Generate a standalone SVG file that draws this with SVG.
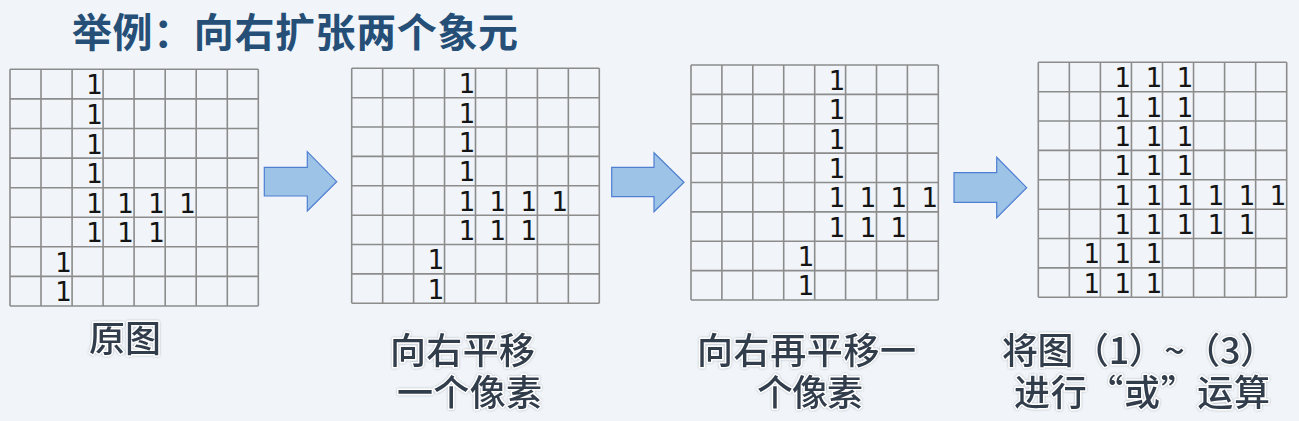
<svg xmlns="http://www.w3.org/2000/svg" width="1299" height="421" viewBox="0 0 1299 421">
<defs>
<style>
.grid{fill:none;stroke:#8c8c8c;stroke-width:1.6}
.d{font-family:"DejaVu Sans",sans-serif;font-size:26px;fill:#141414;text-anchor:end}
.lbl{font-family:"Noto Sans CJK SC","Noto Sans",sans-serif;font-size:36px;font-weight:500;fill:#323d4c;stroke:#ffffff;stroke-width:3;paint-order:stroke;stroke-linejoin:round;filter:url(#glow)}
.title{font-family:"Noto Sans CJK SC","Noto Sans",sans-serif;font-size:40px;font-weight:bold;fill:#264f78}
.arrow{fill:#9dc3e6;stroke:#4f7fd2;stroke-width:1.2}
</style>
<filter id="glow" x="-10%" y="-20%" width="120%" height="140%">
<feDropShadow dx="0" dy="0" stdDeviation="1.2" flood-color="#7a8594" flood-opacity="0.6"/>
</filter>
</defs>
<rect width="1299" height="421" fill="#f1f5f9"/>
<text id="title" class="title" x="72" y="47" textLength="446" lengthAdjust="spacing">举例：向右扩张两个象元</text>

<g id="grid1">
<path class="grid" d="M10,69.3V306M41,69.3V306M72.1,69.3V306M103.1,69.3V306M134.1,69.3V306M165.2,69.3V306M196.2,69.3V306M227.3,69.3V306M258.3,69.3V306M10,69.3H258.3M10,98.9H258.3M10,128.5H258.3M10,158.1H258.3M10,187.7H258.3M10,217.2H258.3M10,246.8H258.3M10,276.4H258.3M10,306H258.3"/>
<g transform="translate(1.5,1.2)">
<text class="d" x="101.3" y="93.2">1</text>
<text class="d" x="101.3" y="122.8">1</text>
<text class="d" x="101.3" y="152.4">1</text>
<text class="d" x="101.3" y="182">1</text>
<text class="d" x="101.3" y="211.5">1</text>
<text class="d" x="132.3" y="211.5">1</text>
<text class="d" x="163.4" y="211.5">1</text>
<text class="d" x="194.4" y="211.5">1</text>
<text class="d" x="101.3" y="241.1">1</text>
<text class="d" x="132.3" y="241.1">1</text>
<text class="d" x="163.4" y="241.1">1</text>
<text class="d" x="70.3" y="270.7">1</text>
<text class="d" x="70.3" y="300.3">1</text>
</g>
</g>

<g id="grid2">
<path class="grid" d="M351.7,68.3V303.3M382.65,68.3V303.3M413.6,68.3V303.3M444.55,68.3V303.3M475.5,68.3V303.3M506.45,68.3V303.3M537.4,68.3V303.3M568.35,68.3V303.3M599.3,68.3V303.3M351.7,68.3H599.3M351.7,97.7H599.3M351.7,127.05H599.3M351.7,156.4H599.3M351.7,185.8H599.3M351.7,215.2H599.3M351.7,244.55H599.3M351.7,273.9H599.3M351.7,303.3H599.3"/>
<g transform="translate(1.5,1.2)">
<text class="d" x="473.7" y="92">1</text>
<text class="d" x="473.7" y="121.35">1</text>
<text class="d" x="473.7" y="150.7">1</text>
<text class="d" x="473.7" y="180.1">1</text>
<text class="d" x="473.7" y="209.5">1</text>
<text class="d" x="504.65" y="209.5">1</text>
<text class="d" x="535.6" y="209.5">1</text>
<text class="d" x="566.55" y="209.5">1</text>
<text class="d" x="473.7" y="238.85">1</text>
<text class="d" x="504.65" y="238.85">1</text>
<text class="d" x="535.6" y="238.85">1</text>
<text class="d" x="442.75" y="268.2">1</text>
<text class="d" x="442.75" y="297.6">1</text>
</g>
</g>

<g id="grid3">
<path class="grid" d="M691,65V300M721.9,65V300M752.8,65V300M783.7,65V300M814.7,65V300M845.6,65V300M876.5,65V300M907.4,65V300M938.3,65V300M691,65H938.3M691,94.4H938.3M691,123.75H938.3M691,153.1H938.3M691,182.5H938.3M691,211.9H938.3M691,241.25H938.3M691,270.6H938.3M691,300H938.3"/>
<g transform="translate(1.5,1.2)">
<text class="d" x="843.8" y="88.7">1</text>
<text class="d" x="843.8" y="118.05">1</text>
<text class="d" x="843.8" y="147.4">1</text>
<text class="d" x="843.8" y="176.8">1</text>
<text class="d" x="843.8" y="206.2">1</text>
<text class="d" x="874.7" y="206.2">1</text>
<text class="d" x="905.6" y="206.2">1</text>
<text class="d" x="936.5" y="206.2">1</text>
<text class="d" x="843.8" y="235.55">1</text>
<text class="d" x="874.7" y="235.55">1</text>
<text class="d" x="905.6" y="235.55">1</text>
<text class="d" x="812.9" y="264.9">1</text>
<text class="d" x="812.9" y="294.3">1</text>
</g>
</g>

<g id="grid4">
<path class="grid" d="M1038.3,62.3V297.3M1069.35,62.3V297.3M1100.4,62.3V297.3M1131.45,62.3V297.3M1162.5,62.3V297.3M1193.55,62.3V297.3M1224.6,62.3V297.3M1255.65,62.3V297.3M1286.7,62.3V297.3M1038.3,62.3H1286.7M1038.3,91.7H1286.7M1038.3,121.05H1286.7M1038.3,150.4H1286.7M1038.3,179.8H1286.7M1038.3,209.2H1286.7M1038.3,238.55H1286.7M1038.3,267.9H1286.7M1038.3,297.3H1286.7"/>
<g transform="translate(1.5,1.2)">
<text class="d" x="1129.65" y="86">1</text><text class="d" x="1160.7" y="86">1</text><text class="d" x="1191.75" y="86">1</text>
<text class="d" x="1129.65" y="115.35">1</text><text class="d" x="1160.7" y="115.35">1</text><text class="d" x="1191.75" y="115.35">1</text>
<text class="d" x="1129.65" y="144.7">1</text><text class="d" x="1160.7" y="144.7">1</text><text class="d" x="1191.75" y="144.7">1</text>
<text class="d" x="1129.65" y="174.1">1</text><text class="d" x="1160.7" y="174.1">1</text><text class="d" x="1191.75" y="174.1">1</text>
<text class="d" x="1129.65" y="203.5">1</text><text class="d" x="1160.7" y="203.5">1</text><text class="d" x="1191.75" y="203.5">1</text><text class="d" x="1222.8" y="203.5">1</text><text class="d" x="1253.85" y="203.5">1</text><text class="d" x="1284.9" y="203.5">1</text>
<text class="d" x="1129.65" y="232.85">1</text><text class="d" x="1160.7" y="232.85">1</text><text class="d" x="1191.75" y="232.85">1</text><text class="d" x="1222.8" y="232.85">1</text><text class="d" x="1253.85" y="232.85">1</text>
<text class="d" x="1098.6" y="262.2">1</text><text class="d" x="1129.65" y="262.2">1</text><text class="d" x="1160.7" y="262.2">1</text>
<text class="d" x="1098.6" y="291.6">1</text><text class="d" x="1129.65" y="291.6">1</text><text class="d" x="1160.7" y="291.6">1</text>
</g>
</g>

<g id="connectors">
<polygon class="arrow" points="264.3,167.3 307.3,167.3 307.3,151.7 336.7,181.7 307.3,211 307.3,196 264.3,196"/>
<polygon class="arrow" points="611.7,167.3 654,167.3 654,152.7 684,182.3 654,211.7 654,196.7 611.7,196.7"/>
<polygon class="arrow" points="954,172.7 996.7,172.7 996.7,157.3 1026.7,187.7 996.7,217.7 996.7,202.3 954,202.3"/>
</g>

<g id="labels">
<text id="label1" class="lbl" x="89" y="352" textLength="72" lengthAdjust="spacing">原图</text>
<text id="label2" class="lbl"><tspan x="390" y="364" textLength="145" lengthAdjust="spacing">向右平移</tspan><tspan x="397" y="406" textLength="145" lengthAdjust="spacing">一个像素</tspan></text>
<text id="label3" class="lbl"><tspan x="697" y="364" textLength="219" lengthAdjust="spacing">向右再平移一</tspan><tspan x="757" y="406" textLength="106" lengthAdjust="spacing">个像素</tspan></text>
<text id="label4" class="lbl"><tspan x="1002" y="364" textLength="274" lengthAdjust="spacing">将图（1）~（3）</tspan><tspan x="1014" y="406" textLength="256" lengthAdjust="spacing">进行“或”运算</tspan></text>
</g>
</svg>
